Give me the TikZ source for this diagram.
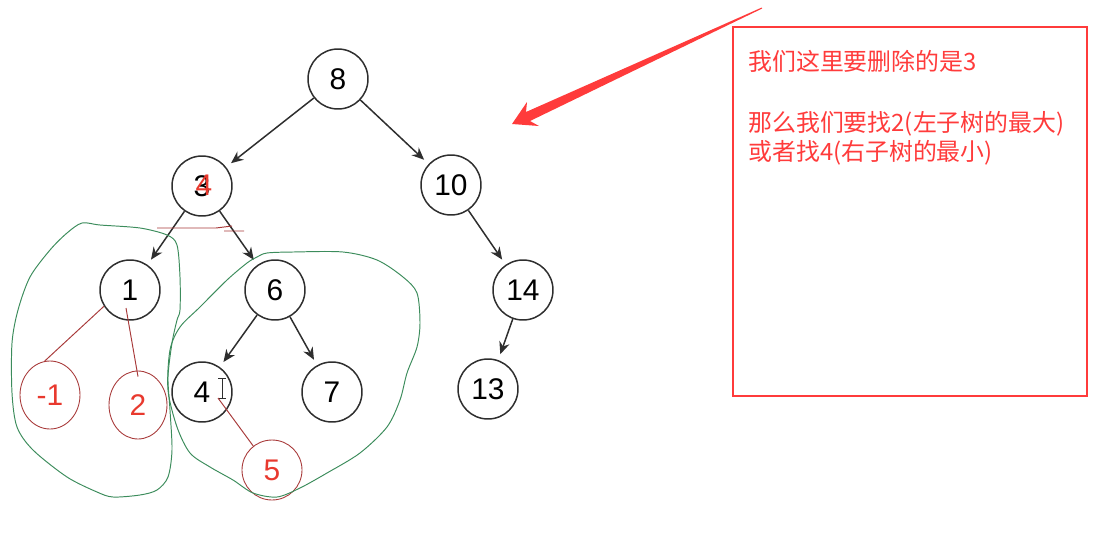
\documentclass[tikz,border=0pt]{standalone}
\usepackage{fontspec}
\setmainfont{Liberation Sans}
\newfontfamily\cjk{Noto Sans CJK SC}
\usetikzlibrary{arrows.meta,positioning,shapes.geometric}
\definecolor{TreeGray}{HTML}{2E2E2E}
\definecolor{NoteRed}{HTML}{FF3B3B}
\definecolor{InkRed}{HTML}{A83A3A}
\definecolor{MarkRed}{HTML}{E8392E}
\definecolor{InkGreen}{HTML}{3C8C5C}

\begin{document}
\begin{tikzpicture}[x=0.02cm,y=-0.02cm,>={Stealth[length=7pt,width=6pt]}]
\tikzstyle{keynode}=[circle,draw=TreeGray,line width=0.85pt,minimum size=1.2cm,inner sep=0pt,font=\fontsize{17}{19}\selectfont]
\tikzstyle{newnode}=[draw=InkRed,line width=0.5pt,text=MarkRed,inner sep=0pt,font=\fontsize{17}{19}\selectfont]
\tikzstyle{link}=[->,draw=TreeGray,line width=0.85pt,shorten >=3.5pt]
\tikzstyle{ink}=[draw=InkRed,line width=0.55pt]
\tikzstyle{group}=[draw=InkGreen,line width=0.55pt]
\tikzstyle{note}=[anchor=base west,inner sep=0pt,text=NoteRed,font=\cjk\fontsize{13.6}{16}\selectfont]
\useasboundingbox (0,0) rectangle (1110,552);
% tree
\node[keynode] (n8) at (338,79) {8};
\node[keynode] (n3) at (202,186) {3};
\node[keynode] (n10) at (451,185) {10};
\node[keynode] (n1) at (130,290) {1};
\node[keynode] (n6) at (275,290) {6};
\node[keynode] (n14) at (523,290) {14};
\node[keynode] (n4) at (202,392) {4};
\node[keynode] (n7) at (332,392) {7};
\node[keynode] (n13) at (488,389) {13};
\node[text=MarkRed,inner sep=0pt,font=\fontsize{17}{19}\selectfont] (fix) at (204,185) {4};
\draw[link] (n8) -- (n3);
\draw[link] (n8) -- (n10);
\draw[link] (n3) -- (n1);
\draw[link] (n3) -- (n6);
\draw[link] (n10) -- (n14);
\draw[link] (n6) -- (n4);
\draw[link] (n6) -- (n7);
\draw[link] (n14) -- (n13);
% cursor
\draw[TreeGray,line width=0.45pt] (218,378) -- (226,378) (222,378) -- (222,398) (218,398) -- (226,398);
% handwritten nodes
\node[newnode,ellipse,minimum width=1.2cm,minimum height=1.36cm] (m1) at (50,395) {-1};
\node[newnode,ellipse,minimum width=1.16cm,minimum height=1.36cm] (m2) at (138,405) {2};
\node[newnode,circle,minimum size=1.2cm] (m5) at (272,470) {5};
\draw[ink] (n1.212) -- (m1.99);
\draw[ink] ([shift={(-4,18)}]n1.center) -- ([shift={(0,6)}]m2.north);
\draw[ink] ([shift={(16,6)}]n4.center) -- (m5.128);
\draw[ink] (157,228) -- (216,228) -- (232,226) (224,231) -- (244,231);
% subtrees
\draw[group] plot[smooth cycle,tension=0.5] coordinates {(82,223) (100,225) (140,228) (167,235) (177,245) (180,277) (180,310) (177,320) (172,343) (168,377) (170,410) (172,450) (168,477) (157,490) (140,495) (113,497) (97,492) (67,477) (33,450) (17,427) (12,393) (12,343) (18,310) (30,277) (50,250) (67,233)};
\draw[group] plot[smooth cycle,tension=0.5] coordinates {(257,257) (267,253) (293,252) (343,252) (377,260) (403,277) (417,293) (420,323) (417,347) (407,373) (400,400) (387,427) (360,453) (327,473) (300,488) (277,497) (253,493) (233,480) (210,467) (190,453) (177,427) (168,390) (170,350) (180,327) (200,307) (227,280) (247,263)};
% note
\draw[NoteRed,line width=1.1pt] (733,27) rectangle (1087,396);
\node[note] (t1) at (748,70) {我们这里要删除的是3};
\node[note] (t2) at (748,131) {那么我们要找2(左子树的最大)};
\node[note] (t3) at (748,160) {或者找4(右子树的最小)};
\fill[NoteRed] (512,124) -- (527,102) -- (526,112) -- (761.8,7.5) -- (762.2,8.5) -- (530,121) -- (539,126) -- cycle;
\end{tikzpicture}
\end{document}
